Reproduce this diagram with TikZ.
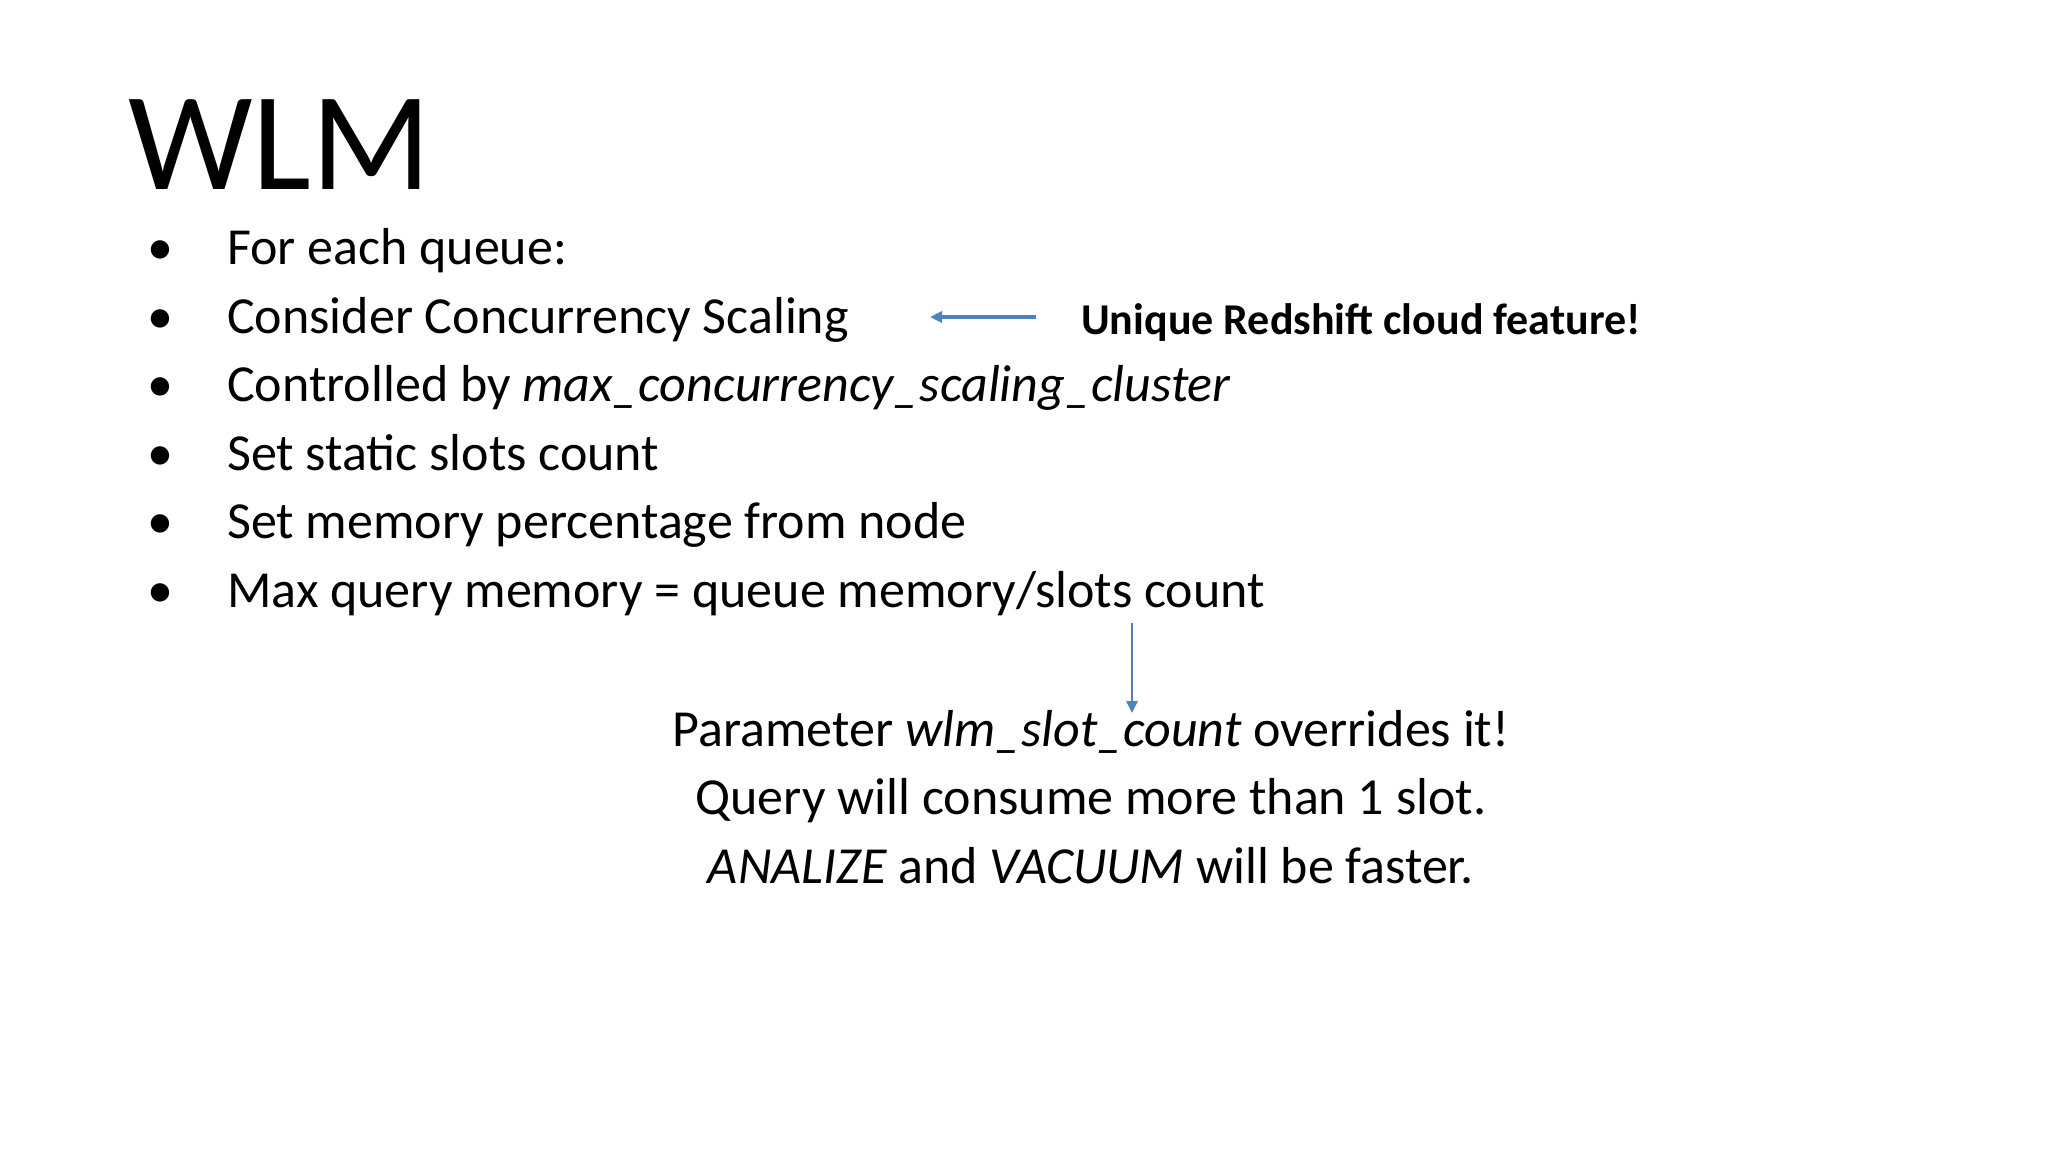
\documentclass[tikz,border=0pt]{standalone}
\usepackage{fontspec}
\setmainfont{Carlito}
\usetikzlibrary{arrows.meta}
\definecolor{arr}{HTML}{4F81BD}
\begin{document}
\begin{tikzpicture}[x=1pt,y=-1pt,
  txt/.style={anchor=base west,inner sep=0pt,font=\fontsize{52}{62}\selectfont},
  ctr/.style={anchor=base,inner sep=0pt,font=\fontsize{52}{62}\selectfont},
  bul/.style={anchor=base,inner sep=0pt,font=\fontsize{52}{62}\selectfont},
  conn/.style={draw=arr,line width=3.5pt,-{Triangle[length=12pt,width=11pt]}}]
\useasboundingbox[fill=white] (0,0) rectangle (2048,1152);
\node[txt,font=\fontsize{140}{160}\selectfont] (title) at (128,189) {WLM};
\foreach \y/\n in {264/1,333/2,401/3,470/4,538/5,607/6}
  \node[bul] (b\n) at (160,\y) {•};
\node[txt] (t1) at (227,264) {For each queue:};
\node[txt] (t2) at (227,333) {Consider Concurrency Scaling};
\node[txt] (t3) at (227,401) {Controlled by \textit{max\_concurrency\_scaling\_cluster}};
\node[txt] (t4) at (227,470) {Set static slots count};
\node[txt] (t5) at (227,538) {Set memory percentage from node};
\node[txt] (t6) at (227,607) {Max query memory = queue memory/slots count};
\node[txt,font=\fontsize{44}{52}\selectfont\bfseries] (u) at (1081,334) {Unique Redshift cloud feature!};
\node[ctr] (c1) at (1091,746) {Parameter \textit{wlm\_slot\_count} overrides it!};
\node[ctr] (c2) at (1091,814) {Query will consume more than 1 slot.};
\node[ctr] (c3) at (1091,883) {\textit{ANALIZE} and \textit{VACUUM} will be faster.};
\coordinate (a1s) at (1036,317);
\coordinate (a1e) at (930,317);
\coordinate (a2s) at (1132,623);
\coordinate (a2e) at (1132,713);
\draw[conn] (a1s) -- (a1e);
\draw[conn,line width=2.5pt] (a2s) -- (a2e);
\end{tikzpicture}
\end{document}
